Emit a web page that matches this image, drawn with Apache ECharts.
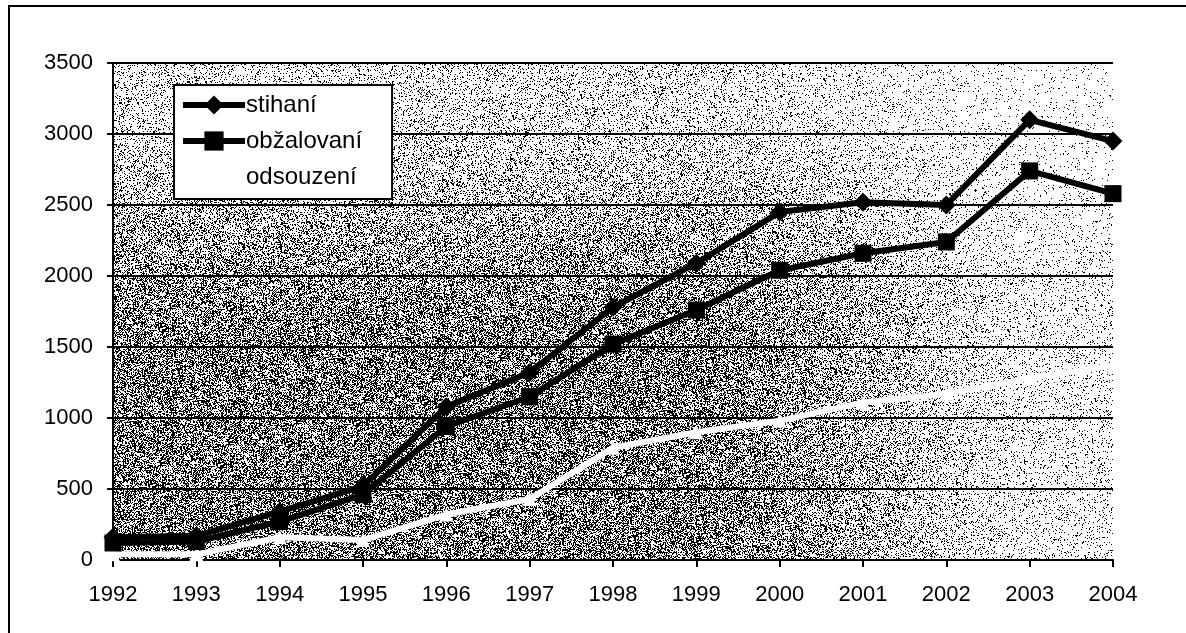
<!DOCTYPE html>
<html>
<head>
<meta charset="utf-8">
<script src="https://cdn.jsdelivr.net/npm/echarts@6/dist/echarts.min.js"></script>
<style>
  html, body { margin: 0; padding: 0; background: #fff; }
  #chart { width: 1186px; height: 633px; }
</style>
</head>
<body>
<div id="chart"></div>
<script>
// Roky na ose x
const roky = ['1992', '1993', '1994', '1995', '1996', '1997', '1998', '1999', '2000', '2001', '2002', '2003', '2004'];

// Hodnoty
const stihani = [160, 170, 340, 520, 1080, 1320, 1780, 2090, 2450, 2520, 2500, 3100, 2950];
const obzalovani = [120, 130, 270, 460, 940, 1150, 1520, 1760, 2040, 2160, 2240, 2740, 2580];
const odsouzeni = [40, 40, 160, 140, 320, 430, 790, 900, 980, 1110, 1170, 1280, 1370];

const yTicks = { min: 0, max: 3500, interval: 500 };

const FONT = '"Liberation Sans", Arial, sans-serif';

// Plocha grafu v pixelech
const plot = { left: 113, top: 63, width: 1000, height: 497 };

// Šedé zrnité pozadí jako u naskenovaného grafu (jen textura)
function noiseCanvas(w, h) {
    const c = document.createElement('canvas');
    c.width = w;
    c.height = h;
    const ctx = c.getContext('2d');
    const img = ctx.createImageData(w, h);
    let s = 987654321;
    const smooth = (a, b, t) => {
        const k = Math.min(1, Math.max(0, (t - a) / (b - a)));
        return k * k * (3 - 2 * k);
    };
    for (let y = 0; y < h; y++) {
        const fy = 0.3 + 0.7 * smooth(0.05, 0.6, y / h);
        for (let x = 0; x < w; x++) {
            const fx = 1 - 0.8 * smooth(0.55, 0.95, x / w);
            const d = 0.5 * fx * fy;
            s = (s * 1103515245 + 12345) & 0x7fffffff;
            const v = (s / 0x7fffffff) < d ? 0 : 255;
            const i = (y * w + x) * 4;
            img.data[i] = v;
            img.data[i + 1] = v;
            img.data[i + 2] = v;
            img.data[i + 3] = 255;
        }
    }
    ctx.putImageData(img, 0, 0);
    return c;
}

const chart = echarts.init(document.getElementById('chart'));

const option = {
    animation: false,
    backgroundColor: '#fff',
    textStyle: { fontFamily: FONT, color: '#000' },
    graphic: [
        {
            type: 'image',
            z: -10,
            silent: true,
            style: {
                image: noiseCanvas(plot.width, plot.height),
                x: plot.left,
                y: plot.top,
                width: plot.width,
                height: plot.height
            }
        },
        {
            type: 'rect',
            silent: true,
            shape: { x: 9, y: 6, width: 1200, height: 700 },
            style: { fill: 'none', stroke: '#000', lineWidth: 2 }
        }
    ],
    grid: {
        left: plot.left,
        top: plot.top,
        width: plot.width,
        height: plot.height
    },
    legend: {
        orient: 'vertical',
        left: 174,
        top: 85,
        itemWidth: 62,
        itemHeight: 24,
        itemGap: 12,
        padding: [8, 30, 10, 6],
        backgroundColor: '#fff',
        borderColor: '#000',
        borderWidth: 2,
        borderRadius: 0,
        lineStyle: { width: 6 },
        itemStyle: { borderWidth: 0 },
        textStyle: { fontFamily: FONT, fontSize: 24, color: '#000', padding: [0, 0, 0, -4] },
        data: ['stihaní', 'obžalovaní', 'odsouzení']
    },
    xAxis: {
        type: 'category',
        data: roky,
        boundaryGap: false,
        axisLine: { lineStyle: { color: '#000', width: 2 } },
        axisTick: { length: 7, lineStyle: { color: '#000', width: 2 } },
        axisLabel: { fontFamily: FONT, fontSize: 22, color: '#000', margin: 24 },
        splitLine: { show: false }
    },
    yAxis: {
        type: 'value',
        min: yTicks.min,
        max: yTicks.max,
        interval: yTicks.interval,
        axisLine: { show: true, lineStyle: { color: '#000', width: 2 } },
        axisTick: { show: true, length: 6, lineStyle: { color: '#000', width: 2 } },
        axisLabel: {
            fontFamily: FONT, fontSize: 22, color: '#000', margin: 20,
            formatter: v => String(v)
        },
        splitLine: { lineStyle: { color: '#000', width: 2 } }
    },
    series: [
        {
            name: 'stihaní',
            type: 'line',
            data: stihani,
            symbol: 'diamond',
            symbolSize: 19,
            lineStyle: { color: '#000', width: 6 },
            itemStyle: { color: '#000' },
            z: 4
        },
        {
            name: 'obžalovaní',
            type: 'line',
            data: obzalovani,
            symbol: 'rect',
            symbolSize: 17,
            lineStyle: { color: '#000', width: 6 },
            itemStyle: { color: '#000' },
            z: 3
        },
        {
            name: 'odsouzení',
            type: 'line',
            data: odsouzeni,
            symbol: 'triangle',
            symbolSize: 14,
            lineStyle: { color: '#fff', width: 6 },
            itemStyle: { color: '#fff' },
            z: 2
        }
    ]
};

chart.setOption(option);
</script>
</body>
</html>
